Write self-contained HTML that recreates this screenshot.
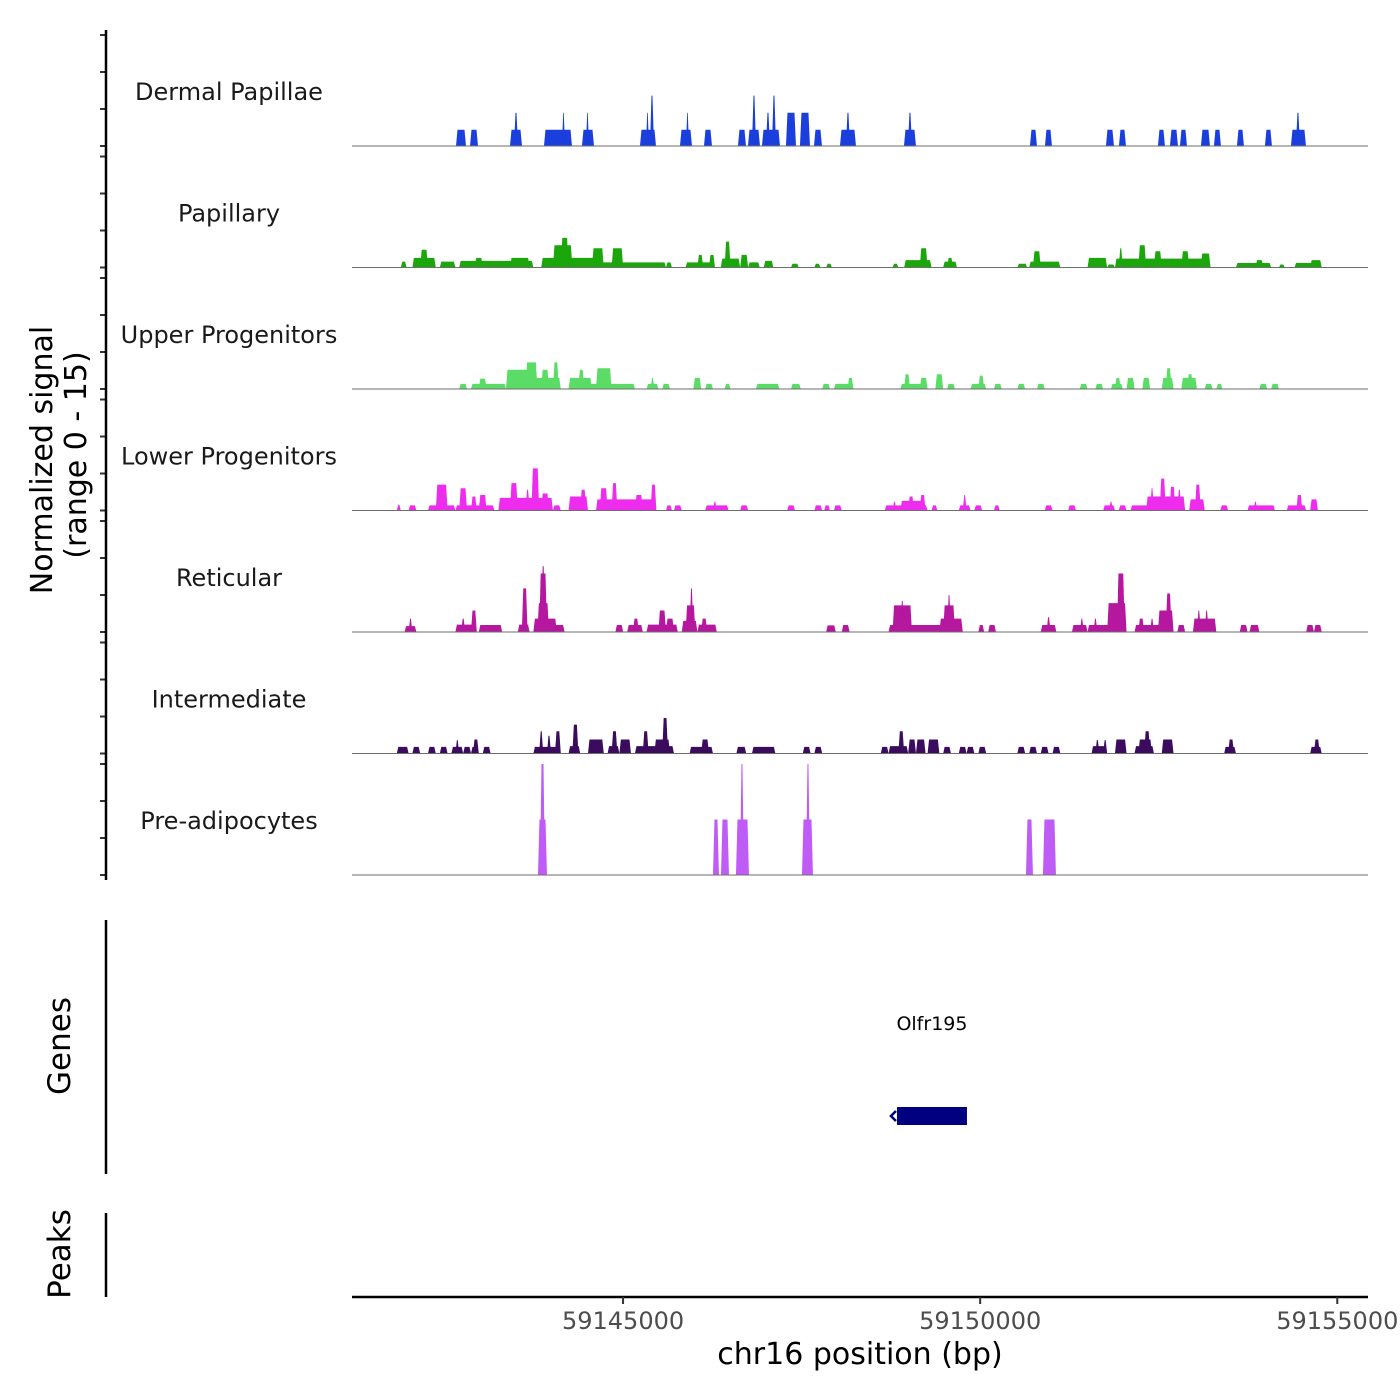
<!DOCTYPE html>
<html><head><meta charset="utf-8"><style>
html,body{margin:0;padding:0;background:#fff;}
svg{display:block;font-family:"DejaVu Sans","Liberation Sans",sans-serif;}
</style></head><body>
<svg id="chart" width="1400" height="1400" viewBox="0 0 1400 1400" xmlns="http://www.w3.org/2000/svg">
<g id="tracks"></g>
<g id="yaxis"></g>
<text transform="translate(52,460) rotate(-90)" text-anchor="middle" font-size="30" fill="#000">Normalized signal</text>
<text transform="translate(86,455) rotate(-90)" text-anchor="middle" font-size="30" fill="#000">(range 0 - 15)</text>
<line x1="106" y1="920" x2="106" y2="1174" stroke="#000" stroke-width="2.5"/>
<text transform="translate(70,1046) rotate(-90)" text-anchor="middle" font-size="31">Genes</text>
<g id="genes"></g>
<line x1="106" y1="1213" x2="106" y2="1297" stroke="#000" stroke-width="2.5"/>
<text transform="translate(70,1254) rotate(-90)" text-anchor="middle" font-size="31">Peaks</text>
<g id="xaxis"></g>
<text x="860" y="1364" text-anchor="middle" font-size="30">chr16 position (bp)</text>
</svg>
<script>
// region & binning
const regionStart = 59141205;
const regionEnd = 59155430;
const binSize = 28;
const trackNames = ["Dermal Papillae","Papillary","Upper Progenitors","Lower Progenitors","Reticular","Intermediate","Pre-adipocytes"];
const trackColors = ["#1a3fdc","#1ba60c","#5bdc66","#ee2cee","#b5179f","#3b0b5e","#c05cf6"];
const xTicks = [59145000,59150000,59155000];
const xTickLabels = ["59145000","59150000","59155000"];
const yTicks = [0,5,10,15];
// segments: [startBin, endBin, signal]
const dermalPapillae = [[52,57,2.2],[59,63,2.2],[79,85,2.2],[81,83,4.5],[96,110,2.2],[105,106.5,4.5],[115,121,2.2],[117,118.5,4.5],[144,152,2.2],[147,148.5,4.5],[149,151,6.8],[164,170,2.2],[167,168.5,4.5],[176,180,2.2],[193,197,2.2],[198,204,2.2],[200,202,6.8],[205,214,2.2],[207,209,4.5],[210,212,6.8],[217,222,4.5],[224,229,4.5],[231,235,2.2],[244,252,2.2],[247,249,4.5],[276,282,2.2],[278,280,4.5],[339,342.5,2.2],[346.5,350,2.2],[377,381,2.2],[383.5,387,2.2],[403,406.5,2.2],[409,413,2.2],[414,417.5,2.2],[424.5,429,2.2],[431,434.5,2.2],[442.5,446,2.2],[456.5,460,2.2],[469.5,477,2.2],[472,474,4.5]];
const papillary = [[24.4,27.3,0.8],[30.2,41.9,1.3],[34.1,38,2.4],[43.9,51.7,0.8],[53.6,90.7,0.9],[61.4,65.4,1.3],[79,88.8,1.3],[94.6,157,0.7],[94.6,122,1.3],[100.5,110.2,3.0],[104.4,108.3,4.0],[120,125.9,2.6],[129.8,135.6,2.6],[157,160,0.7],[166.8,180.5,0.7],[172.7,175.6,1.7],[178.5,181.5,1.7],[184.4,194.1,1.2],[186.3,189.3,3.5],[194.1,198.1,1.7],[198.1,203.9,0.7],[205.9,210.7,0.9],[219.5,223.4,0.5],[231.2,234.2,0.5],[237.1,240,0.5],[270.3,273.2,0.5],[276.1,289.8,1.0],[283.9,287.8,2.6],[295.6,302.5,0.8],[297.6,300.5,1.3],[332.7,337.6,0.5],[338.6,354.2,0.8],[340.5,344.4,2.2],[367.8,377.6,1.3],[377.6,381.5,0.4],[381.5,429.3,1.2],[383.4,385.4,2.6],[393.2,397.1,3.0],[401,404.9,2.2],[414.7,418.6,2.2],[424.4,429.3,1.9],[442,459.6,0.6],[451.8,455.7,1.0],[463.5,466.4,0.4],[471.3,484.9,0.6],[479.1,484.9,1.0]];
const upperProgenitors = [[53.6,57.5,0.7],[59.5,77,0.7],[63.4,67.3,1.4],[77,104.4,1.5],[77,92.7,2.6],[86.8,92.7,3.6],[94.6,98.5,2.6],[100.5,103.4,3.6],[108.3,141.5,0.7],[108.3,120,1.5],[113.2,116.1,2.6],[122,129.8,2.8],[147.3,153.2,0.7],[149.3,151.2,1.5],[155.1,159,0.7],[170.7,174.6,1.5],[176.6,180.5,0.7],[186.3,189.3,0.7],[202,213.7,0.7],[219.5,224.4,0.7],[235.1,239,0.7],[241,250.7,0.7],[247.8,250.7,1.5],[274.2,287.8,0.7],[276.1,279,2.0],[283.9,287.8,1.5],[291.7,295.6,2.0],[297.6,301.5,0.7],[309.3,317.1,0.7],[313.2,316.1,1.8],[321,324.9,0.7],[332.7,336.6,0.7],[342.5,346.4,0.7],[363.9,367.8,0.7],[371.7,375.6,0.7],[379.5,385.4,0.7],[381.5,384.4,1.5],[387.3,391.3,1.5],[395.2,399.1,1.5],[404.9,410.8,1.5],[406.9,409.8,2.8],[414.7,422.5,1.5],[417.6,420.5,2.0],[426.4,430.3,0.7],[432.2,435.2,0.7],[453.7,457.6,0.7],[459.6,463.5,0.7]];
const lowerProgenitors = [[22.4,24.4,0.8],[28.3,32.2,0.7],[38,51.7,0.7],[41.9,47.8,3.5],[51.7,71.2,0.7],[53.6,57.5,3.0],[59.5,62.4,1.9],[63.4,67.3,2.1],[73.2,100.5,1.7],[79,82.9,3.7],[86.8,88.8,2.8],[89.7,93.6,5.7],[94.6,98.5,2.3],[100.5,104.4,0.7],[108.3,118,1.9],[114.1,117.1,2.8],[122,151.2,1.5],[123.9,127.8,3.0],[129.8,132.7,3.7],[141.5,145.4,2.1],[149.3,152.2,3.5],[157,160,0.7],[161,164.9,0.7],[176.6,188.3,0.7],[180.5,182.4,1.2],[194.1,198.1,0.7],[217.6,221.5,0.7],[231.2,235.1,0.7],[236.1,239,0.7],[241,244.9,0.7],[266.4,287.8,0.7],[270.3,272.2,1.2],[274.2,285.9,1.3],[278.1,281,1.9],[283.9,286.8,2.1],[289.8,292.7,0.7],[303.4,309.3,0.7],[305.4,307.3,2.1],[311.2,315.1,0.7],[321,323.9,0.7],[346.4,350.3,0.7],[358.1,362,0.7],[375.6,381.5,0.7],[378.6,380.5,1.2],[383.4,387.3,0.7],[389.3,416.6,0.7],[397.1,416.6,1.9],[399.1,401,3.0],[403.9,406.9,4.3],[408.8,411.7,3.2],[412.7,414.7,2.8],[418.6,426.4,1.5],[421.5,424.4,3.5],[434.2,438.1,0.7],[447.8,461.5,0.7],[450.8,452.7,1.2],[467.4,477.1,0.7],[472.2,475.2,2.1],[479.1,483,1.5]];
const reticular = [[26.3,32.2,0.8],[28.3,30.2,1.8],[51.7,61.4,1.0],[54.6,56.6,1.8],[59.5,62.4,2.9],[63.4,75.1,0.95],[82.9,88.8,1.0],[84.9,87.8,5.9],[90.7,106.3,0.95],[90.7,102.4,1.8],[92.7,98.5,3.9],[93.6,97.5,7.9],[94.6,96.6,8.9],[131.7,135.6,0.95],[137.6,145.4,0.95],[140.5,143.4,1.8],[147.3,162.9,1.0],[153.2,157,2.9],[157,161,1.8],[164.9,172.7,1.5],[166.8,171.7,3.6],[168.8,170.7,5.9],[172.7,182.4,1.0],[174.6,177.6,1.8],[237.1,241.9,0.9],[244.9,248.8,0.95],[268.3,305.4,0.95],[270.3,280,3.6],[274.2,276.1,4.2],[293.7,305.4,1.8],[295.6,301.5,3.6],[297.6,299.5,5.0],[313.2,316.1,0.95],[318.1,322,0.95],[344.4,352.2,0.95],[347.3,349.3,2.0],[360,367.8,0.95],[364,365.9,1.8],[367.8,387.3,0.95],[370.8,372.7,1.8],[377.6,387.3,3.9],[382.5,386.4,7.9],[391.3,410.8,0.95],[393.2,396.1,1.8],[399.1,401,1.8],[403,410.8,2.9],[406.9,409.8,5.2],[412.7,416.6,0.95],[420.5,432.2,1.8],[422.5,424.4,2.9],[426.4,428.3,2.9],[443.9,447.8,0.95],[448.8,453.7,0.95],[477.1,481,0.95],[481,484.9,0.95]];
const intermediate = [[22.4,28.3,0.9],[30.2,34.1,0.9],[38,41.9,0.9],[43.9,47.8,0.9],[49.7,55.6,0.9],[51.7,53.6,1.8],[55.6,59.5,0.9],[59.5,63.4,0.9],[60.5,63.4,1.9],[65.4,69.3,0.9],[90.7,104.4,0.9],[93.6,95.6,3.0],[97.5,99.5,2.4],[101.5,104.4,3.0],[108.3,114.1,1.0],[110.2,113.2,3.9],[118,125.9,1.9],[127.8,133.7,1.0],[129.8,132.7,3.0],[133.7,139.5,1.9],[141.5,161,1.0],[145.4,148.3,3.0],[151.2,159,1.9],[155.1,158,4.8],[168.8,180.5,0.9],[174.6,178.5,1.9],[192.2,197.1,0.9],[200,211.7,0.9],[225.4,229.3,0.9],[231.2,235.1,0.9],[264.4,268.3,0.9],[268.3,278.1,1.0],[273.2,276.1,3.0],[278.1,282,1.9],[282,286.8,1.9],[287.8,293.7,1.9],[295.6,299.5,0.9],[303.4,307.3,0.9],[307.3,311.2,0.9],[313.2,317.1,0.9],[332.7,336.6,0.9],[338.6,342.5,0.9],[344.4,348.3,0.9],[350.3,354.2,0.9],[369.8,377.6,1.0],[371.7,373.7,1.8],[375.6,377.6,1.8],[381.5,387.3,1.9],[391.3,401,1.0],[393.2,400,1.9],[396.1,399.1,3.0],[404.9,410.8,1.9],[436.1,442,0.9],[438.1,441,1.9],[479.1,484.9,0.9],[481,483.9,1.9]];
const preAdipocytes = [[93,97.5,7.5],[94,96.5,15],[180.5,183.5,7.5],[184.5,188.5,7.5],[192,198.5,7.5],[194,196,15],[225,230.5,7.5],[227,229,15],[337,340.5,7.5],[345.5,352,7.5]];
const trackData = [dermalPapillae,papillary,upperProgenitors,lowerProgenitors,reticular,intermediate,preAdipocytes];
// gene
const geneName = "Olfr195";
const geneStart = 59148835;
const geneEnd = 59149815;

const NS = "http://www.w3.org/2000/svg";
const plotLeft = 352, plotRight = 1368;
const firstBase = 146, trackStep = 121.5, pxPerUnit = 7.4;
function xScale(bp){ return plotLeft + (bp - regionStart) / (regionEnd - regionStart) * (plotRight - plotLeft); }
function binToBp(b){ return regionStart + b * binSize; }
function yScale(v, base){ return base - v * pxPerUnit; }
function mk(tag, attrs, parent){ const e = document.createElementNS(NS, tag); for (const k in attrs) e.setAttribute(k, attrs[k]); parent.appendChild(e); return e; }

const tracksG = document.getElementById('tracks');
const yG = document.getElementById('yaxis');
trackNames.forEach((name, i) => {
  const base = firstBase + i * trackStep;
  const g = mk('g', {}, tracksG);
  
  
  const lbl = mk('text', {x: 229, y: base - 46, 'text-anchor': 'middle', 'font-size': 24, fill: '#1a1a1a'}, g);
  lbl.textContent = name;
  
  
  trackData[i].forEach(seg => {
    const x0 = xScale(binToBp(seg[0])), x1 = xScale(binToBp(seg[1]));
    const top = yScale(seg[2], base);
    const s = Math.min(1.5, (x1 - x0) / 2.5);
    const p = mk('polygon', {points: `${x0},${base} ${x0 + s},${top} ${x1 - s},${top} ${x1},${base}`, fill: trackColors[i]}, g);
    
    
  });
  const bl = mk('line', {x1: plotLeft, x2: plotRight, y1: base, y2: base, stroke: '#6e6e6e', 'stroke-width': 1}, g);
  
  
  yTicks.forEach(t => {
    const y = yScale(t, base);
    const tk = mk('line', {x1: 100, x2: 106, y1: y, y2: y, stroke: '#333', 'stroke-width': 2}, yG);
    
    
  });
});
const yl = mk('line', {x1: 106, x2: 106, y1: 30, y2: 880, stroke: '#000', 'stroke-width': 2.5}, yG);



// gene
const gG = document.getElementById('genes');
const gx0 = xScale(geneStart), gx1 = xScale(geneEnd);
const gr = mk('rect', {x: gx0, y: 1107, width: gx1 - gx0, height: 18, fill: '#000080'}, gG);


const ga = mk('path', {d: `M${gx0 - 1},1111 L${gx0 - 6},1116 L${gx0 - 1},1121`, stroke: '#000080', 'stroke-width': 2.5, fill: 'none'}, gG);


const gl = mk('text', {x: (gx0 + gx1) / 2, y: 1030, 'text-anchor': 'middle', 'font-size': 19}, gG);
gl.textContent = geneName;



// x axis
const xG = document.getElementById('xaxis');
const xl = mk('line', {x1: plotLeft, x2: plotRight, y1: 1297, y2: 1297, stroke: '#000', 'stroke-width': 2.5}, xG);


xTicks.forEach((t, i) => {
  const x = xScale(t);
  const tk = mk('line', {x1: x, x2: x, y1: 1297, y2: 1304, stroke: '#333', 'stroke-width': 2}, xG);
  
  
  const tl = mk('text', {x: x, y: 1329, 'text-anchor': 'middle', 'font-size': 24, fill: '#4d4d4d'}, xG);
  tl.textContent = xTickLabels[i];
  
  
});
</script>
</body></html>
